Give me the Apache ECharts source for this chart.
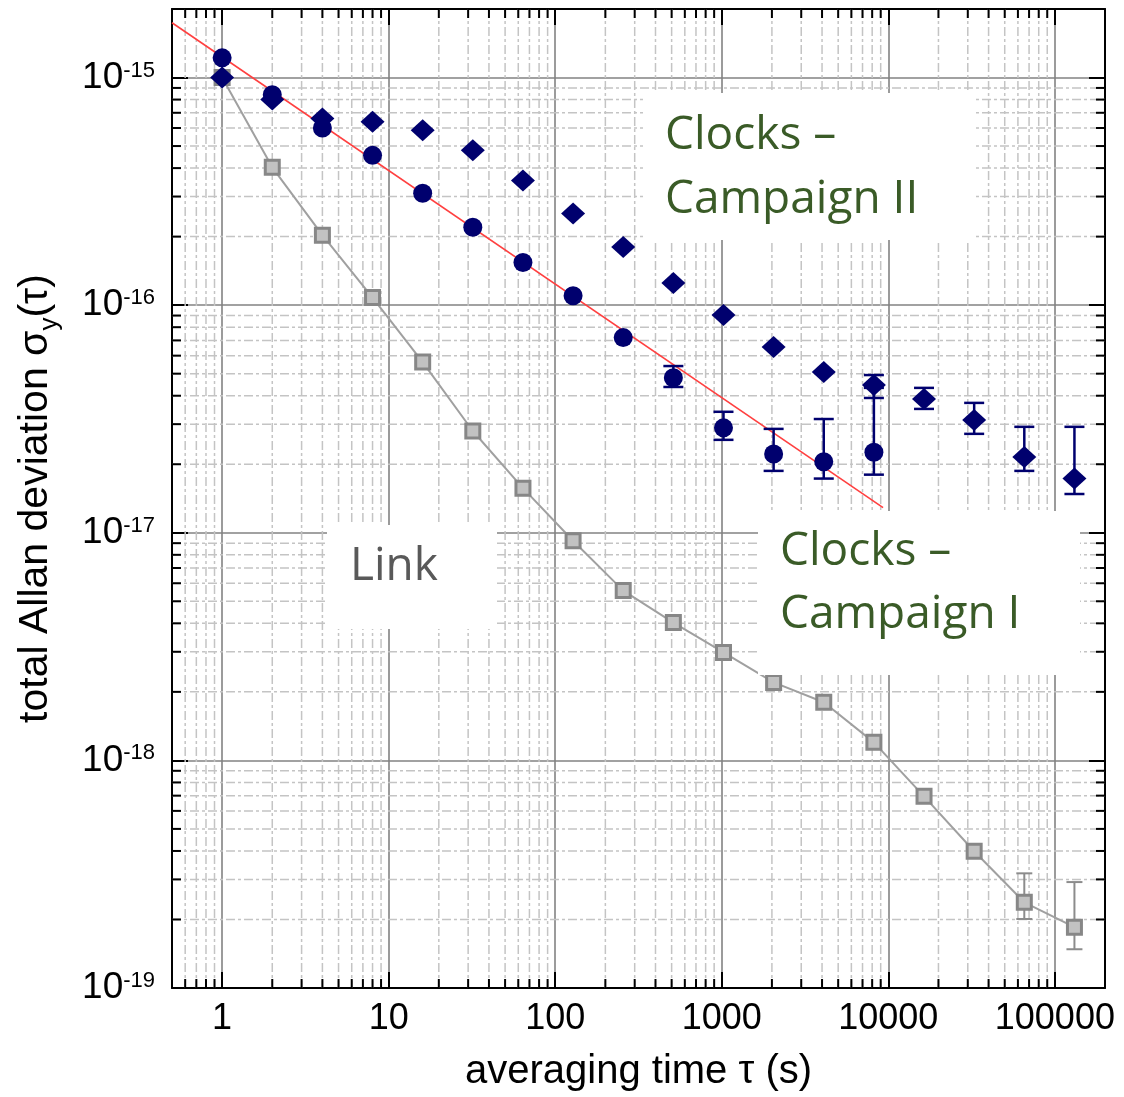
<!DOCTYPE html>
<html>
<head>
<meta charset="utf-8">
<script src="https://cdn.jsdelivr.net/npm/echarts@6/dist/echarts.min.js"></script>
<style>
html,body{margin:0;padding:0;background:#fff;}
#chart{width:1124px;height:1097px;}
</style>
</head>
<body>
<div id="chart"></div>
<script>
// ---- data ----
const tauClocksI = [1, 2, 4, 8, 16, 32, 64, 128, 256, 512, 1024, 2048, 4096, 8192];
const adevClocksI = [1.22e-15, 8.4e-16, 6.0e-16, 4.55e-16, 3.1e-16, 2.2e-16, 1.54e-16, 1.10e-16, 7.2e-17, 4.8e-17, 2.89e-17, 2.22e-17, 2.05e-17, 2.26e-17];

const tauClocksII = [1, 2, 4, 8, 16, 32, 64, 128, 256, 512, 1024, 2048, 4096, 8192, 16384, 32768, 65536, 131072];
const adevClocksII = [1.0e-15, 8.0e-16, 6.6e-16, 6.4e-16, 5.86e-16, 4.79e-16, 3.53e-16, 2.53e-16, 1.80e-16, 1.25e-16, 9.04e-17, 6.54e-17, 5.08e-17, 4.46e-17, 3.87e-17, 3.13e-17, 2.15e-17, 1.73e-17];

const tauLink = [1, 2, 4, 8, 16, 32, 64, 128, 256, 512, 1024, 2048, 4096, 8192, 16384, 32768, 65536, 131072];
const adevLink = [1.0e-15, 4.03e-16, 2.03e-16, 1.08e-16, 5.62e-17, 2.80e-17, 1.57e-17, 9.22e-18, 5.57e-18, 4.03e-18, 2.98e-18, 2.20e-18, 1.80e-18, 1.20e-18, 6.95e-19, 3.99e-19, 2.38e-19, 1.85e-19];

const fitTau = [0.5, 9300];
const fitAdev = [1.74e-15, 1.29e-17];

const errTauClocksI = [512, 1024, 2048, 4096, 8192];
const errLowClocksI = [4.37e-17, 2.56e-17, 1.87e-17, 1.73e-17, 1.80e-17];
const errHighClocksI = [5.40e-17, 3.40e-17, 2.86e-17, 3.16e-17, 4.33e-17];

const errTauClocksII = [8192, 16384, 32768, 65536, 131072];
const errLowClocksII = [3.91e-17, 3.50e-17, 2.72e-17, 1.87e-17, 1.48e-17];
const errHighClocksII = [4.93e-17, 4.33e-17, 3.72e-17, 2.92e-17, 2.92e-17];

const errTauLink = [16384, 65536, 131072];
const errLowLink = [6.55e-19, 2.01e-19, 1.48e-19];
const errHighLink = [7.38e-19, 3.19e-19, 2.92e-19];

const xTickExps = [0, 1, 2, 3, 4, 5];
const xTickLabels = ['1', '10', '100', '1000', '10000', '100000'];
const yTickExps = [-19, -18, -17, -16, -15];
const yTickSup = ['-19', '-18', '-17', '-16', '-15'];

const xMin = 0.5, xMax = 2e5, yMin = 1e-19, yMax = 2e-15;

// ---- helpers ----
const zip2 = (a, b) => a.map((v, i) => [v, b[i]]);
const zip3 = (a, b, c) => a.map((v, i) => [v, b[i], c[i]]);

// minor grid positions (2..9 of each decade inside the axis range)
function minorValues(minE, maxE, lo, hi) {
  const out = [];
  for (let e = minE; e <= maxE; e++) {
    for (let k = 2; k <= 9; k++) {
      const v = k * Math.pow(10, e);
      if (v > lo * 1.0001 && v < hi * 0.9999) out.push(v);
    }
  }
  return out;
}
const xMinor = minorValues(-1, 5, xMin, xMax);
const yMinor = minorValues(-19, -15, yMin, yMax);

const FONT = 'Liberation Sans';
const MINOR_COLOR = '#c4c4c4';
const MINOR_DASH = [9, 3, 3, 3];
const NAVY = '#00006e';

function exponentOf(v) {
  const e = Math.log10(v);
  const r = Math.round(e);
  return Math.abs(e - r) < 1e-6 ? r : null;
}

function errRender(color, half, lw) {
  return function (params, api) {
    const x = api.value(0);
    const p1 = api.coord([x, api.value(1)]);
    const p2 = api.coord([x, api.value(2)]);
    const cx = p1[0];
    const st = { stroke: color, lineWidth: lw };
    return {
      type: 'group',
      children: [
        { type: 'line', shape: { x1: cx, y1: p1[1], x2: cx, y2: p2[1] }, style: st },
        { type: 'line', shape: { x1: cx - half, y1: p1[1], x2: cx + half, y2: p1[1] }, style: st },
        { type: 'line', shape: { x1: cx - half, y1: p2[1], x2: cx + half, y2: p2[1] }, style: st }
      ]
    };
  };
}

const chart = echarts.init(document.getElementById('chart'), null, { renderer: 'canvas' });

const baseAxisLine = { show: true, onZero: false, lineStyle: { color: '#000', width: 2 } };
const baseTick = { show: true, inside: true, length: 16, lineStyle: { color: '#000', width: 2 } };

const option = {
  animation: false,
  backgroundColor: '#fff',
  grid: { left: 172, top: 9, right: 19, bottom: 108, containLabel: false },
  xAxis: [
    {
      type: 'log', logBase: 10, min: xMin, max: xMax, position: 'bottom',
      axisLine: baseAxisLine, axisTick: baseTick,
      axisLabel: {
        show: true, margin: 13, fontSize: 36, fontFamily: FONT, color: '#000',
        showMinLabel: false, showMaxLabel: false,
        formatter: function (v) {
          const e = exponentOf(v);
          const i = e === null ? -1 : xTickExps.indexOf(e);
          return i >= 0 ? xTickLabels[i] : '';
        }
      },
      splitLine: { show: true, lineStyle: { color: '#828282', width: 1.6 } },
      name: 'averaging time τ (s)', nameLocation: 'middle', nameGap: 64,
      nameTextStyle: { fontSize: 40, fontFamily: FONT, color: '#000' }
    },
    {
      type: 'log', logBase: 10, min: xMin, max: xMax, position: 'top',
      axisLine: baseAxisLine, axisTick: baseTick,
      axisLabel: { show: false }, splitLine: { show: false }
    }
  ],
  yAxis: [
    {
      type: 'log', logBase: 10, min: yMin, max: yMax, position: 'left',
      axisLine: baseAxisLine, axisTick: baseTick,
      axisLabel: {
        show: true, margin: 17, showMinLabel: true, showMaxLabel: false,
        formatter: function (v) {
          const e = exponentOf(v);
          const i = e === null ? -1 : yTickExps.indexOf(e);
          return i >= 0 ? '{b|10}{s|' + yTickSup[i] + '}' : '';
        },
        rich: {
          b: { fontSize: 37, fontFamily: FONT, color: '#000', lineHeight: 36 },
          s: { fontSize: 22, fontFamily: FONT, color: '#000', lineHeight: 22, verticalAlign: 'top' }
        }
      },
      splitLine: { show: true, lineStyle: { color: '#828282', width: 1.6 } },
      name: '{n|total Allan deviation σ}{sub|y}{n|(τ)}',
      nameLocation: 'middle', nameGap: 109, nameRotate: 90,
      nameTextStyle: {
        rich: {
          n: { fontSize: 41, fontFamily: FONT, color: '#000', lineHeight: 54 },
          sub: { fontSize: 26, fontFamily: FONT, color: '#000', lineHeight: 26, verticalAlign: 'bottom' }
        }
      }
    },
    {
      type: 'log', logBase: 10, min: yMin, max: yMax, position: 'right',
      axisLine: baseAxisLine, axisTick: baseTick,
      axisLabel: { show: false }, splitLine: { show: false }
    }
  ],
  series: [
    // minor vertical grid lines + minor ticks on bottom/top
    {
      type: 'custom', name: 'xminor', z: 1, silent: true, clip: false,
      xAxisIndex: 0, yAxisIndex: 0,
      data: xMinor.map(v => [v, 1e-17]),
      encode: { x: 0, y: 1 },
      renderItem: function (params, api) {
        const cs = params.coordSys;
        const x = api.coord([api.value(0), api.value(1)])[0];
        const b = cs.y + cs.height, t = cs.y;
        return {
          type: 'group', children: [
            { type: 'line', shape: { x1: x, y1: t, x2: x, y2: b }, style: { stroke: MINOR_COLOR, lineWidth: 1.5, lineDash: MINOR_DASH } },
            { type: 'line', shape: { x1: x, y1: b, x2: x, y2: b - 9 }, style: { stroke: '#000', lineWidth: 2 } },
            { type: 'line', shape: { x1: x, y1: t, x2: x, y2: t + 9 }, style: { stroke: '#000', lineWidth: 2 } }
          ]
        };
      }
    },
    // minor horizontal grid lines + minor ticks on left/right
    {
      type: 'custom', name: 'yminor', z: 1, silent: true, clip: false,
      xAxisIndex: 0, yAxisIndex: 0,
      data: yMinor.map(v => [10, v]),
      encode: { x: 0, y: 1 },
      renderItem: function (params, api) {
        const cs = params.coordSys;
        const y = api.coord([api.value(0), api.value(1)])[1];
        const l = cs.x, r = cs.x + cs.width;
        return {
          type: 'group', children: [
            { type: 'line', shape: { x1: l, y1: y, x2: r, y2: y }, style: { stroke: MINOR_COLOR, lineWidth: 1.5, lineDash: MINOR_DASH } },
            { type: 'line', shape: { x1: l, y1: y, x2: l + 9, y2: y }, style: { stroke: '#000', lineWidth: 2 } },
            { type: 'line', shape: { x1: r, y1: y, x2: r - 9, y2: y }, style: { stroke: '#000', lineWidth: 2 } }
          ]
        };
      }
    },
    // link error bars
    {
      type: 'custom', name: 'Link err', z: 3, silent: true,
      data: zip3(errTauLink, errLowLink, errHighLink),
      encode: { x: 0, y: [1, 2] },
      renderItem: errRender('#8c8c8c', 8, 2)
    },
    // link
    {
      type: 'line', name: 'Link', z: 4,
      data: zip2(tauLink, adevLink),
      lineStyle: { color: '#a0a0a0', width: 2 },
      symbol: 'rect', symbolSize: 14, showSymbol: true,
      itemStyle: { color: '#c2c2c2', borderColor: '#878787', borderWidth: 3, opacity: 1 },
      silent: true
    },
    // fit line
    {
      type: 'line', name: 'fit', z: 5,
      data: zip2(fitTau, fitAdev),
      showSymbol: false, symbol: 'none',
      lineStyle: { color: '#ff4040', width: 1.6 },
      silent: true
    },
    // clock error bars
    {
      type: 'custom', name: 'Clocks I err', z: 6, silent: true,
      data: zip3(errTauClocksI, errLowClocksI, errHighClocksI),
      encode: { x: 0, y: [1, 2] },
      renderItem: errRender(NAVY, 10, 2.5)
    },
    {
      type: 'custom', name: 'Clocks II err', z: 6, silent: true,
      data: zip3(errTauClocksII, errLowClocksII, errHighClocksII),
      encode: { x: 0, y: [1, 2] },
      renderItem: errRender(NAVY, 10, 2.5)
    },
    {
      type: 'scatter', name: 'Clocks – Campaign II', z: 7,
      data: zip2(tauClocksII, adevClocksII),
      symbol: 'diamond', symbolSize: [24, 22],
      itemStyle: { color: NAVY, opacity: 1 }, silent: true
    },
    {
      type: 'scatter', name: 'Clocks – Campaign I', z: 7,
      data: zip2(tauClocksI, adevClocksI),
      symbol: 'circle', symbolSize: 19,
      itemStyle: { color: NAVY, opacity: 1 }, silent: true
    }
  ],
  graphic: [
    { type: 'rect', z: 100, shape: { x: 643, y: 93, width: 330, height: 147 }, style: { fill: '#fff' } },
    { type: 'text', z: 101, x: 665, y: 135.5, style: { text: 'Clocks –', fontSize: 46, fontFamily: 'Open Sans', fill: '#3a5b27', verticalAlign: 'middle', align: 'left' } },
    { type: 'text', z: 101, x: 665, y: 199.5, style: { text: 'Campaign II', fontSize: 46, fontFamily: 'Open Sans', fill: '#3a5b27', verticalAlign: 'middle', align: 'left' } },

    { type: 'rect', z: 100, shape: { x: 327, y: 525, width: 170, height: 104 }, style: { fill: '#fff' } },
    { type: 'text', z: 101, x: 350, y: 567, style: { text: 'Link', fontSize: 46, fontFamily: 'Open Sans', fill: '#595959', verticalAlign: 'middle', align: 'left' } },

    { type: 'rect', z: 100, shape: { x: 758, y: 511, width: 322, height: 164 }, style: { fill: '#fff' } },
    { type: 'text', z: 101, x: 780, y: 552, style: { text: 'Clocks –', fontSize: 46, fontFamily: 'Open Sans', fill: '#3a5b27', verticalAlign: 'middle', align: 'left' } },
    { type: 'text', z: 101, x: 780, y: 615, style: { text: 'Campaign I', fontSize: 46, fontFamily: 'Open Sans', fill: '#3a5b27', verticalAlign: 'middle', align: 'left' } }
  ]
};

chart.setOption(option);
</script>
</body>
</html>
